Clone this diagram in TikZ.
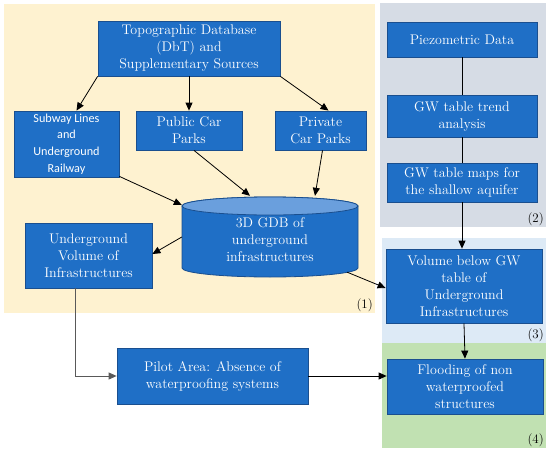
\documentclass[tikz,border=0pt]{standalone}
\usepackage{fontspec}
\newfontfamily\sansfnt{Carlito}
\usetikzlibrary{arrows.meta}
\definecolor{boxblue}{HTML}{1F6FC6}
\definecolor{boxedge}{HTML}{1A4F8F}
\definecolor{cyltop}{HTML}{6A9FDD}
\definecolor{regA}{HTML}{FEF2D0}
\definecolor{regB}{HTML}{D6DCE5}
\definecolor{regC}{HTML}{DDEAF6}
\definecolor{regD}{HTML}{C1E1B2}
\tikzset{
  flowbox/.style={draw=boxedge, line width=0.8pt, fill=boxblue, text=white, align=center, inner sep=0pt,
    font=\fontsize{14}{17}\selectfont},
  conn/.style={line width=0.8pt, -{Triangle[length=8pt,width=7pt]}},
  plainconn/.style={line width=0.8pt},
  regionlabel/.style={font=\fontsize{13}{15}\selectfont, anchor=south east, inner sep=1pt}
}
\begin{document}
\begin{tikzpicture}[x=1pt,y=-1pt]
\useasboundingbox (0,0) rectangle (550,453);
% regions
\fill[regA] (4,4) rectangle (375,313);
\fill[regB] (380,3) rectangle (546,227);
\fill[regC] (382,238) rectangle (546,343);
\fill[regD] (382,343) rectangle (546,448);
\node[regionlabel] (l1) at (374,313) {(1)};
\node[regionlabel] (l2) at (545,227) {(2)};
\node[regionlabel] (l3) at (545,343) {(3)};
\node[regionlabel] (l4) at (545,448) {(4)};
% cylinder
\fill[boxblue, draw=boxedge, line width=0.8pt] (182,206) -- (182,268) arc[start angle=180, end angle=360, x radius=88pt, y radius=9pt] -- (358,206) arc[start angle=0, end angle=180, x radius=88pt, y radius=9pt] -- cycle;
\fill[cyltop, draw=boxedge, line width=0.8pt] (270,206) ellipse[x radius=88pt, y radius=9pt];
\node[minimum width=176pt, minimum height=80pt, inner sep=0pt] (gdb) at (270,237) {};
\node[text=white, align=center, font=\fontsize{14}{17}\selectfont] (gdbtext) at (270,240) {3D GDB of\\underground\\infrastructures};
% nodes
\node[flowbox, minimum width=182pt, minimum height=55pt] (topo) at (189,48.5) {Topographic Database\\(DbT) and\\Supplementary Sources};
\node[flowbox, minimum width=105pt, minimum height=66pt, font=\sansfnt\fontsize{12.2}{16.7}\selectfont] (subway) at (66.5,144) {Subway Lines\\and\\Underground\\Railway};
\node[flowbox, minimum width=106pt, minimum height=39pt] (public) at (189,130.5) {Public Car\\Parks};
\node[flowbox, minimum width=91pt, minimum height=39pt] (private) at (320.5,130.5) {Private\\Car Parks};
\node[flowbox, minimum width=127pt, minimum height=65pt] (uv) at (88.5,255.5) {Underground\\Volume of\\Infrastructures};
\node[flowbox, minimum width=150pt, minimum height=35pt] (piezo) at (462,39.5) {Piezometric Data};
\node[flowbox, minimum width=150pt, minimum height=42pt] (trend) at (462,116) {GW table trend\\analysis};
\node[flowbox, minimum width=150pt, minimum height=39pt] (maps) at (462,182.5) {GW table maps for\\the shallow aquifer};
\node[flowbox, minimum width=156pt, minimum height=74pt] (volb) at (464,286) {Volume below GW\\table of\\Underground\\Infrastructures};
\node[flowbox, minimum width=191pt, minimum height=56pt] (pilot) at (212.5,376) {Pilot Area: Absence of\\waterproofing systems};
\node[flowbox, minimum width=156pt, minimum height=55pt] (flood) at (465,386.5) {Flooding of non\\waterproofed\\structures};
% connectors
\draw[conn] (topo.south west) -- ([xshift=10pt]subway.north);
\draw[conn] (topo.south) -- (public.north);
\draw[conn] (topo.south east) -- ([xshift=8pt]private.north);
\draw[conn] ([yshift=1pt]subway.south east) -- ([yshift=32pt]gdb.west);
\draw[conn] ([xshift=5pt]public.south) -- ([xshift=-20pt,yshift=1pt]gdb.north);
\draw[conn] ([xshift=2pt]private.south) -- ([xshift=45pt,yshift=1pt]gdb.north);
\draw[conn] (gdb.west) -- ([yshift=1.5pt]uv.east);
\draw[conn] ([xshift=-11pt,yshift=5pt]gdb.south east) -- ([yshift=-2pt]volb.west);
\draw[plainconn] (piezo.south) -- (trend.north);
\draw[plainconn] (trend.south) -- (maps.north);
\draw[conn] (maps.south) -- ([xshift=-2pt]volb.north);
\draw[conn] (volb.south) -- (flood.north);
\draw[conn, draw=black!65] ([xshift=-13.5pt]uv.south) |- (pilot.west);
\draw[conn] (pilot.east) -- (pilot.east -| flood.west);
\end{tikzpicture}
\end{document}
